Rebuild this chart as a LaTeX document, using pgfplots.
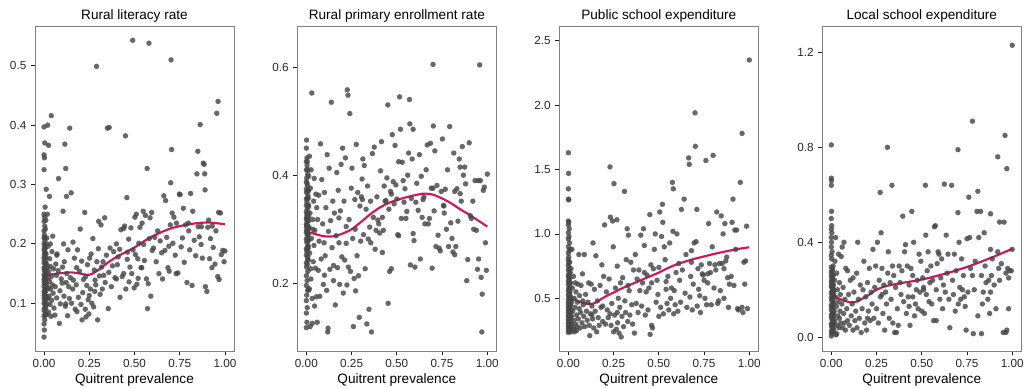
\documentclass[border=0pt]{standalone}
\usepackage{fontspec}
\setmainfont{Liberation Sans}
\usepackage{pgfplots}
\pgfplotsset{compat=1.18}
\definecolor{pt}{HTML}{474747}
\definecolor{ln}{HTML}{D4145A}
\pgfplotsset{
  pts/.style={only marks, mark=*, mark size=2.05pt, color=pt, mark options={draw opacity=0, fill=pt, fill opacity=0.82}},
  fit/.style={no marks, smooth, color=ln, line width=1.6pt},
  panel/.style={
  scale only axis, width=149.25pt, height=243.75pt, anchor=south west,
  xmin=-0.05, xmax=1.05, xtick={0,0.25,0.5,0.75,1},
  /pgf/number format/assume math mode=true,
  xticklabel style={/pgf/number format/.cd,fixed,fixed zerofill,precision=2},
  yticklabel style={/pgf/number format/.cd,fixed,fixed zerofill,precision=1},
  tick pos=left, tick align=outside, major tick length=3pt,
  tick style={black!90, line width=0.6pt},
  axis line style={draw=black!50, line width=0.6pt},
  ticklabel style={font=\fontsize{8.8}{10}\selectfont, text=black!85},
  title style={font=\fontsize{10.2}{11}\selectfont, yshift=-6.8pt},
  label style={font=\fontsize{10.2}{11}\selectfont},
  xlabel={Quitrent prevalence}, xlabel style={yshift=3pt},
  clip=false
}}
\begin{document}
\begin{tikzpicture}
\path[use as bounding box] (0,0) rectangle (768pt,290.25pt);
% Panel 1
\begin{axis}[panel, at={(26.25pt,27pt)}, title={Rural literacy rate},
  ymin=0.0196, ymax=0.567, ytick={0.1,0.2,0.3,0.4,0.5}]
\addplot[pts] table {
x y
0 0.043
0.002 0.055
0 0.065
0.004 0.072
0 0.078
0.006 0.083
0 0.088
0.003 0.092
0.008 0.096
0 0.100
0.005 0.104
0 0.108
0.01 0.112
0.002 0.116
0 0.120
0.007 0.124
0 0.128
0.004 0.132
0.009 0.136
0 0.140
0.003 0.144
0 0.148
0.006 0.152
0.001 0.156
0 0.160
0.008 0.164
0 0.168
0.004 0.172
0 0.176
0.002 0.180
0.007 0.185
0 0.190
0.003 0.195
0 0.200
0.005 0.205
0 0.210
0.002 0.215
0 0.222
0.004 0.230
0 0.238
0.003 0.245
0 0.250
0.006 0.262
0 0.325
0.002 0.345
0 0.350
0.004 0.370
0 0.397
0.001 0.113
0.011 0.147
0.012 0.176
0.001 0.135
0.009 0.091
0.011 0.121
0.006 0.098
0.009 0.107
0.004 0.118
0.01 0.128
0.007 0.139
0.012 0.150
0.005 0.158
0.009 0.168
0.011 0.183
0.006 0.192
0.009 0.200
0.004 0.211
0.013 0.132
0.014 0.109
0.013 0.166
0.008 0.080
0.005 0.140
0.01 0.155
0.003 0.185
0.007 0.225
0.015 0.081
0.016 0.099
0.018 0.142
0.02 0.108
0.02 0.160
0.022 0.196
0.024 0.126
0.025 0.085
0.026 0.153
0.028 0.112
0.03 0.137
0.031 0.175
0.033 0.098
0.035 0.162
0.036 0.124
0.038 0.078
0.04 0.145
0.042 0.105
0.044 0.187
0.046 0.131
0.048 0.213
0.05 0.117
0.052 0.158
0.055 0.092
0.012 0.292
0.02 0.40
0.025 0.366
0.03 0.28
0.04 0.416
0.01 0.24
0.015 0.21
0.035 0.20
0.018 0.25
0.06 0.080
0.062 0.128
0.065 0.166
0.068 0.147
0.07 0.109
0.072 0.183
0.078 0.155
0.08 0.31
0.085 0.066
0.088 0.121
0.09 0.099
0.095 0.141
0.1 0.134
0.102 0.161
0.105 0.255
0.108 0.200
0.11 0.112
0.112 0.170
0.115 0.368
0.118 0.095
0.12 0.327
0.122 0.135
0.124 0.28
0.126 0.150
0.13 0.079
0.132 0.190
0.136 0.128
0.14 0.108
0.142 0.395
0.146 0.143
0.15 0.286
0.152 0.100
0.158 0.124
0.162 0.139
0.168 0.176
0.172 0.090
0.178 0.131
0.182 0.086
0.185 0.190
0.19 0.110
0.196 0.154
0.2 0.225
0.204 0.098
0.208 0.171
0.214 0.118
0.218 0.140
0.225 0.253
0.228 0.090
0.232 0.077
0.236 0.130
0.24 0.165
0.244 0.106
0.248 0.082
0.252 0.176
0.256 0.124
0.26 0.183
0.264 0.100
0.27 0.209
0.274 0.094
0.278 0.156
0.282 0.139
0.286 0.131
0.29 0.499
0.292 0.170
0.296 0.072
0.3 0.192
0.302 0.238
0.306 0.146
0.31 0.115
0.315 0.232
0.318 0.161
0.322 0.124
0.326 0.170
0.33 0.147
0.335 0.244
0.338 0.135
0.345 0.181
0.35 0.395
0.355 0.091
0.36 0.396
0.358 0.152
0.21 0.072
0.16 0.203
0.07 0.181
0.25 0.113
0.28 0.120
0.23 0.145
0.12 0.099
0.18 0.160
0.365 0.193
0.372 0.128
0.378 0.163
0.385 0.187
0.392 0.143
0.4 0.200
0.405 0.165
0.41 0.178
0.418 0.191
0.425 0.224
0.432 0.145
0.44 0.226
0.445 0.230
0.45 0.382
0.452 0.124
0.458 0.278
0.462 0.186
0.468 0.208
0.475 0.161
0.48 0.227
0.485 0.150
0.49 0.543
0.492 0.190
0.498 0.126
0.502 0.245
0.505 0.182
0.51 0.250
0.513 0.132
0.518 0.175
0.524 0.201
0.53 0.228
0.536 0.160
0.542 0.235
0.548 0.255
0.555 0.172
0.56 0.248
0.566 0.141
0.57 0.327
0.572 0.091
0.576 0.133
0.58 0.538
0.582 0.209
0.586 0.244
0.59 0.112
0.595 0.253
0.598 0.189
0.605 0.193
0.612 0.211
0.62 0.170
0.628 0.222
0.635 0.150
0.642 0.205
0.65 0.185
0.655 0.141
0.44 0.150
0.46 0.174
0.52 0.142
0.54 0.160
0.4 0.141
0.55 0.199
0.42 0.110
0.47 0.136
0.662 0.281
0.668 0.189
0.672 0.273
0.678 0.211
0.685 0.160
0.692 0.154
0.698 0.232
0.70 0.303
0.702 0.510
0.705 0.359
0.708 0.252
0.712 0.201
0.718 0.245
0.725 0.181
0.732 0.235
0.74 0.151
0.748 0.284
0.752 0.283
0.758 0.195
0.765 0.210
0.77 0.260
0.775 0.169
0.782 0.232
0.79 0.135
0.798 0.235
0.805 0.190
0.81 0.285
0.818 0.130
0.822 0.255
0.83 0.206
0.838 0.180
0.845 0.318
0.85 0.356
0.852 0.229
0.858 0.212
0.863 0.401
0.868 0.199
0.875 0.176
0.88 0.336
0.885 0.334
0.888 0.318
0.89 0.291
0.892 0.128
0.9 0.120
0.905 0.228
0.91 0.240
0.915 0.175
0.92 0.209
0.928 0.160
0.935 0.194
0.945 0.166
0.955 0.420
0.96 0.145
0.962 0.440
0.965 0.253
0.968 0.140
0.975 0.252
0.98 0.182
0.988 0.189
0.995 0.170
1.0 0.188
0.95 0.222
0.8 0.222
0.73 0.150
0.69 0.196
0.87 0.229
0.93 0.230
};
\addplot[fit] coordinates {(0,0.146)(0.05,0.149)(0.1,0.151)(0.15,0.152)(0.2,0.150)(0.25,0.148)(0.3,0.156)(0.35,0.168)(0.4,0.178)(0.45,0.186)(0.5,0.194)(0.55,0.204)(0.6,0.213)(0.65,0.220)(0.7,0.226)(0.75,0.230)(0.8,0.233)(0.85,0.235)(0.9,0.236)(0.95,0.235)(1.0,0.233)};
\end{axis}
% Panel 2
\begin{axis}[panel, at={(223pt,27pt)}, title={Rural primary enrollment rate},
  ymin=0.0748, ymax=0.676, ytick={0.2,0.4,0.6}]
\addplot[pts] table {
x y
0 0.118
0.003 0.128
0 0.145
0.005 0.155
0 0.168
0.002 0.178
0.007 0.187
0 0.196
0.004 0.205
0 0.214
0.008 0.222
0.001 0.230
0 0.238
0.006 0.245
0 0.252
0.003 0.258
0 0.264
0.009 0.270
0.002 0.276
0 0.282
0.005 0.288
0 0.294
0.007 0.299
0.001 0.304
0 0.309
0.004 0.314
0 0.319
0.008 0.324
0.002 0.328
0 0.333
0.006 0.338
0 0.344
0.003 0.350
0 0.356
0.009 0.362
0.001 0.368
0 0.374
0.005 0.381
0 0.388
0.002 0.395
0.007 0.402
0 0.410
0.004 0.418
0 0.425
0.003 0.432
0 0.450
0.001 0.465
0.01 0.290
0.011 0.315
0.012 0.342
0.01 0.265
0.012 0.372
0.011 0.243
0.001 0.298
0.002 0.322
0.006 0.235
0.009 0.25
0.004 0.262
0.01 0.279
0.007 0.292
0.012 0.305
0.005 0.318
0.009 0.33
0.011 0.345
0.006 0.358
0.009 0.37
0.004 0.385
0.013 0.398
0.008 0.41
0.005 0.425
0.012 0.28
0.013 0.323
0.01 0.357
0.003 0.307
0.007 0.268
0.014 0.188
0.015 0.302
0.017 0.435
0.018 0.256
0.02 0.330
0.021 0.120
0.022 0.376
0.024 0.227
0.026 0.410
0.028 0.283
0.03 0.552
0.032 0.172
0.033 0.126
0.035 0.318
0.038 0.240
0.04 0.352
0.042 0.270
0.045 0.158
0.047 0.298
0.05 0.228
0.052 0.365
0.055 0.175
0.057 0.340
0.06 0.128
0.016 0.190
0.025 0.208
0.036 0.300
0.043 0.394
0.062 0.318
0.066 0.224
0.068 0.363
0.07 0.278
0.074 0.176
0.078 0.458
0.082 0.245
0.085 0.392
0.09 0.310
0.094 0.198
0.098 0.275
0.1 0.368
0.104 0.251
0.108 0.340
0.112 0.187
0.115 0.438
0.118 0.110
0.12 0.117
0.122 0.296
0.126 0.413
0.13 0.226
0.134 0.316
0.138 0.535
0.142 0.266
0.146 0.352
0.15 0.205
0.155 0.330
0.16 0.160
0.164 0.288
0.168 0.405
0.172 0.229
0.176 0.372
0.18 0.275
0.184 0.198
0.188 0.334
0.192 0.420
0.196 0.249
0.2 0.450
0.204 0.182
0.208 0.352
0.212 0.243
0.216 0.432
0.22 0.274
0.224 0.197
0.226 0.558
0.23 0.548
0.232 0.230
0.236 0.318
0.24 0.514
0.244 0.222
0.248 0.376
0.252 0.413
0.256 0.283
0.26 0.120
0.264 0.209
0.268 0.355
0.272 0.186
0.276 0.457
0.28 0.251
0.284 0.368
0.288 0.214
0.292 0.137
0.296 0.343
0.3 0.278
0.304 0.360
0.308 0.393
0.312 0.430
0.316 0.290
0.32 0.418
0.325 0.227
0.33 0.337
0.334 0.125
0.338 0.380
0.342 0.282
0.346 0.152
0.35 0.304
0.355 0.352
0.36 0.110
0.356 0.275
0.27 0.300
0.18 0.321
0.15 0.233
0.1 0.215
0.22 0.305
0.31 0.355
0.365 0.440
0.37 0.322
0.375 0.452
0.38 0.263
0.385 0.298
0.39 0.360
0.395 0.317
0.4 0.310
0.405 0.293
0.41 0.408
0.415 0.462
0.42 0.322
0.425 0.298
0.43 0.380
0.435 0.352
0.44 0.353
0.445 0.395
0.45 0.530
0.452 0.163
0.456 0.337
0.46 0.222
0.465 0.370
0.47 0.227
0.475 0.475
0.48 0.388
0.485 0.347
0.49 0.455
0.495 0.382
0.5 0.356
0.505 0.290
0.51 0.425
0.515 0.545
0.52 0.485
0.525 0.320
0.53 0.424
0.535 0.390
0.54 0.350
0.545 0.375
0.55 0.320
0.555 0.333
0.56 0.400
0.565 0.441
0.57 0.540
0.572 0.495
0.575 0.234
0.58 0.357
0.585 0.430
0.59 0.485
0.595 0.279
0.6 0.230
0.605 0.350
0.61 0.385
0.618 0.335
0.625 0.438
0.63 0.245
0.635 0.398
0.64 0.322
0.645 0.355
0.65 0.360
0.655 0.310
0.51 0.288
0.47 0.365
0.59 0.292
0.42 0.257
0.662 0.410
0.668 0.456
0.674 0.310
0.68 0.320
0.686 0.459
0.69 0.376
0.695 0.228
0.70 0.605
0.702 0.491
0.706 0.334
0.71 0.445
0.716 0.268
0.722 0.381
0.728 0.289
0.734 0.265
0.74 0.260
0.746 0.370
0.752 0.467
0.758 0.344
0.762 0.330
0.768 0.374
0.774 0.300
0.78 0.410
0.786 0.268
0.792 0.490
0.798 0.312
0.805 0.283
0.81 0.258
0.815 0.441
0.82 0.253
0.826 0.268
0.832 0.375
0.838 0.315
0.845 0.430
0.85 0.366
0.856 0.352
0.862 0.453
0.868 0.400
0.875 0.415
0.88 0.384
0.886 0.205
0.892 0.244
0.9 0.460
0.906 0.325
0.912 0.320
0.92 0.352
0.925 0.300
0.932 0.390
0.94 0.298
0.946 0.226
0.952 0.245
0.958 0.604
0.962 0.390
0.966 0.211
0.97 0.110
0.972 0.180
0.978 0.372
0.984 0.378
0.99 0.275
0.995 0.224
1.0 0.402
0.7 0.376
0.76 0.343
0.85 0.415
0.82 0.370
0.95 0.390
};
\addplot[fit] coordinates {(0,0.296)(0.05,0.291)(0.1,0.287)(0.15,0.287)(0.2,0.292)(0.25,0.300)(0.3,0.313)(0.35,0.327)(0.4,0.339)(0.45,0.348)(0.5,0.354)(0.55,0.359)(0.6,0.363)(0.65,0.366)(0.7,0.364)(0.75,0.357)(0.8,0.348)(0.85,0.337)(0.9,0.327)(0.95,0.316)(1.0,0.305)};
\end{axis}
% Panel 3
\begin{axis}[panel, at={(419.5pt,27pt)}, title={Public school expenditure},
  ymin=0.091, ymax=2.614, ytick={0.5,1,1.5,2,2.5}]
\addplot[pts] table {
x y
0 0.235
0.004 0.245
0 0.255
0.007 0.265
0.002 0.275
0 0.285
0.005 0.295
0 0.305
0.009 0.315
0.003 0.325
0 0.335
0.006 0.345
0 0.355
0.002 0.365
0.008 0.375
0 0.385
0.004 0.395
0 0.405
0.006 0.415
0.001 0.425
0 0.435
0.007 0.445
0.003 0.455
0 0.465
0.005 0.475
0 0.49
0.009 0.50
0.002 0.515
0 0.53
0.006 0.545
0 0.56
0.003 0.575
0.008 0.59
0 0.605
0.004 0.62
0 0.635
0.006 0.65
0.001 0.665
0 0.68
0.005 0.70
0 0.72
0.003 0.74
0 0.76
0.007 0.78
0 0.80
0.002 0.82
0 0.85
0.004 0.87
0 0.90
0.006 0.93
0 0.96
0.003 0.98
0 1.01
0.005 1.04
0 1.07
0.002 1.09
0 1.10
0 1.27
0.002 1.265
0 1.35
0.001 1.47
0 1.63
0.01 0.28
0.011 0.33
0.012 0.41
0.01 0.52
0.011 0.62
0.012 0.25
0.01 0.88
0.006 0.26
0.009 0.29
0.004 0.31
0.01 0.35
0.007 0.37
0.012 0.39
0.005 0.43
0.009 0.46
0.011 0.48
0.006 0.51
0.009 0.55
0.004 0.58
0.013 0.30
0.008 0.62
0.005 0.66
0.012 0.45
0.013 0.36
0.01 0.70
0.003 0.78
0.007 0.25
0.014 0.24
0.016 0.36
0.018 0.47
0.02 0.29
0.022 0.58
0.024 0.40
0.026 0.26
0.028 0.67
0.03 0.33
0.032 0.50
0.034 0.24
0.036 0.43
0.038 0.62
0.04 0.30
0.042 0.55
0.045 0.37
0.048 0.28
0.05 0.47
0.052 0.61
0.055 0.34
0.058 0.84
0.06 0.42
0.02 0.88
0.03 0.26
0.045 0.25
0.015 0.73
0.062 0.52
0.065 0.27
0.068 0.39
0.07 0.60
0.075 0.31
0.078 0.69
0.082 0.45
0.085 0.36
0.088 0.84
0.09 0.28
0.095 0.53
0.1 0.40
0.104 0.33
0.108 0.47
0.112 0.62
0.115 0.29
0.118 0.21
0.122 0.38
0.126 0.61
0.13 0.44
0.134 0.34
0.136 0.93
0.14 0.27
0.144 0.57
0.148 0.40
0.152 0.83
0.156 0.24
0.16 0.48
0.165 0.35
0.17 0.29
0.175 0.60
0.18 0.43
0.185 0.76
0.19 0.32
0.195 0.67
0.2 1.07
0.205 0.30
0.21 0.55
0.215 0.41
0.22 0.35
0.225 0.65
0.23 1.52
0.232 1.13
0.236 0.29
0.24 0.46
0.244 1.10
0.248 0.90
0.25 0.24
0.252 1.39
0.256 0.37
0.26 0.58
0.265 0.26
0.268 1.11
0.27 0.75
0.272 0.31
0.276 0.50
0.28 0.23
0.284 0.43
0.288 0.62
0.292 0.20
0.296 0.36
0.3 0.66
0.305 0.28
0.31 1.33
0.312 0.48
0.316 0.39
0.32 0.80
0.325 1.04
0.328 0.32
0.332 0.99
0.336 0.56
0.34 0.37
0.345 0.78
0.35 0.45
0.355 0.30
0.36 0.72
0.19 0.44
0.13 0.37
0.27 0.39
0.33 0.60
0.08 0.48
0.23 0.38
0.365 0.23
0.37 0.84
0.375 0.46
0.38 0.65
0.385 0.39
0.39 0.72
0.395 0.56
0.4 0.99
0.405 0.44
0.41 0.62
0.415 1.04
0.42 0.91
0.425 0.37
0.43 0.55
0.435 0.68
0.44 0.41
0.445 0.58
0.45 1.15
0.452 0.22
0.456 0.76
0.46 0.29
0.465 0.27
0.47 0.73
0.475 0.88
0.48 1.00
0.485 0.47
0.49 0.64
0.495 0.53
0.5 0.74
0.505 1.17
0.51 0.43
0.515 0.98
0.52 1.23
0.522 1.09
0.525 0.38
0.53 0.90
0.535 0.80
0.54 0.57
0.545 0.46
0.55 0.67
0.555 0.41
0.56 0.93
0.565 0.50
0.57 0.58
0.575 1.40
0.578 1.02
0.58 1.35
0.582 0.38
0.585 0.56
0.59 0.45
0.595 0.70
0.6 1.00
0.605 0.40
0.61 0.77
0.615 0.64
0.62 0.47
0.625 1.19
0.63 0.72
0.64 1.27
0.645 0.54
0.65 0.84
0.655 0.43
0.5 0.36
0.46 0.62
0.42 0.70
0.54 0.63
0.665 1.59
0.668 1.54
0.672 0.51
0.676 0.67
0.68 0.87
0.685 0.41
0.69 0.61
0.695 0.93
0.70 1.94
0.702 1.68
0.706 0.94
0.71 1.19
0.712 0.44
0.716 0.73
0.72 0.57
0.726 0.52
0.73 0.39
0.735 0.76
0.74 0.69
0.745 0.68
0.75 0.64
0.755 0.50
0.76 1.57
0.764 0.45
0.77 0.62
0.775 1.08
0.78 0.77
0.785 0.70
0.79 0.45
0.795 0.90
0.8 1.61
0.805 0.58
0.81 0.76
0.815 0.72
0.82 1.17
0.825 0.46
0.83 0.48
0.835 0.77
0.84 0.56
0.845 1.14
0.85 0.77
0.855 1.00
0.86 0.50
0.865 1.08
0.87 0.79
0.875 0.82
0.88 0.66
0.885 0.43
0.89 0.61
0.9 0.67
0.905 1.09
0.91 1.27
0.915 0.60
0.92 1.03
0.925 0.88
0.93 1.03
0.935 0.42
0.94 0.41
0.95 1.40
0.96 1.78
0.96 0.43
0.965 0.39
0.97 0.78
0.975 0.61
0.98 0.79
0.985 1.06
0.99 0.42
1.0 2.35
0.86 0.73
0.68 0.78
0.77 0.69
};
\addplot[fit] coordinates {(0,0.52)(0.05,0.48)(0.1,0.458)(0.14,0.46)(0.2,0.51)(0.25,0.545)(0.3,0.58)(0.35,0.61)(0.4,0.64)(0.45,0.67)(0.5,0.70)(0.55,0.735)(0.6,0.765)(0.65,0.787)(0.7,0.808)(0.75,0.825)(0.8,0.843)(0.85,0.858)(0.9,0.873)(0.95,0.886)(1.0,0.896)};
\end{axis}
% Panel 4
\begin{axis}[panel, at={(616.7pt,27pt)}, title={Local school expenditure},
  ymin=-0.058, ymax=1.311, ytick={0,0.4,0.8,1.2}]
\addplot[pts] table {
x y
0 0.005
0.003 0.015
0 0.025
0.006 0.035
0.002 0.045
0 0.055
0.008 0.065
0.004 0.075
0 0.085
0.001 0.095
0.007 0.105
0 0.115
0.003 0.125
0 0.135
0.009 0.145
0.002 0.155
0 0.165
0.005 0.175
0 0.185
0.004 0.195
0.008 0.205
0 0.215
0.002 0.225
0 0.235
0.006 0.245
0 0.255
0.003 0.265
0 0.275
0.007 0.285
0 0.295
0.002 0.33
0 0.345
0.004 0.36
0 0.38
0.001 0.40
0 0.42
0.003 0.44
0 0.455
0.002 0.47
0 0.50
0.001 0.53
0 0.64
0.001 0.66
0 0.67
0 0.81
0.01 0.05
0.011 0.12
0.012 0.19
0.01 0.26
0.011 0.09
0.012 0.22
0.01 0.16
0.006 0.02
0.009 0.04
0.004 0.06
0.01 0.08
0.007 0.10
0.012 0.14
0.005 0.13
0.009 0.15
0.011 0.18
0.006 0.19
0.009 0.22
0.004 0.24
0.013 0.06
0.008 0.26
0.005 0.28
0.012 0.10
0.013 0.20
0.01 0.30
0.003 0.21
0.007 0.17
0.014 0.03
0.016 0.11
0.018 0.24
0.02 0.07
0.022 0.17
0.024 0.42
0.026 0.01
0.028 0.13
0.03 0.27
0.032 0.05
0.034 0.20
0.036 0.09
0.038 0.15
0.04 0.35
0.042 0.04
0.045 0.23
0.048 0.11
0.05 0.18
0.052 0.06
0.055 0.34
0.058 0.14
0.06 0.38
0.02 0.32
0.03 0.015
0.045 0.08
0.062 0.04
0.065 0.21
0.068 0.10
0.07 0.40
0.072 0.06
0.075 0.16
0.078 0.03
0.08 0.29
0.085 0.12
0.09 0.07
0.095 0.18
0.1 0.05
0.105 0.24
0.11 0.09
0.115 0.14
0.12 0.03
0.125 0.19
0.13 0.07
0.135 0.11
0.14 0.27
0.142 0.04
0.146 0.40
0.15 0.16
0.155 0.08
0.16 0.22
0.165 0.02
0.17 0.12
0.175 0.20
0.18 0.32
0.185 0.06
0.19 0.17
0.195 0.03
0.2 0.23
0.205 0.11
0.21 0.29
0.215 0.07
0.22 0.19
0.225 0.14
0.23 0.37
0.235 0.08
0.24 0.21
0.245 0.30
0.25 0.12
0.255 0.40
0.26 0.06
0.265 0.24
0.27 0.61
0.272 0.17
0.275 0.44
0.28 0.29
0.285 0.10
0.29 0.22
0.295 0.03
0.3 0.19
0.305 0.14
0.31 0.80
0.312 0.27
0.315 0.36
0.32 0.08
0.325 0.23
0.33 0.16
0.335 0.64
0.338 0.30
0.34 0.06
0.345 0.26
0.35 0.02
0.355 0.21
0.36 0.02
0.12 0.25
0.2 0.08
0.28 0.18
0.09 0.28
0.365 0.12
0.37 0.05
0.375 0.30
0.38 0.23
0.385 0.18
0.39 0.28
0.395 0.51
0.4 0.15
0.405 0.36
0.41 0.39
0.415 0.10
0.42 0.30
0.425 0.17
0.43 0.22
0.435 0.05
0.44 0.29
0.445 0.53
0.45 0.17
0.455 0.40
0.46 0.09
0.465 0.14
0.47 0.20
0.475 0.24
0.48 0.12
0.485 0.35
0.49 0.19
0.495 0.32
0.5 0.11
0.505 0.25
0.51 0.20
0.515 0.10
0.52 0.64
0.522 0.43
0.525 0.18
0.53 0.28
0.535 0.36
0.54 0.15
0.545 0.23
0.55 0.30
0.555 0.14
0.56 0.24
0.565 0.07
0.57 0.465
0.575 0.47
0.58 0.20
0.585 0.31
0.59 0.36
0.595 0.35
0.6 0.16
0.605 0.25
0.61 0.33
0.615 0.12
0.62 0.22
0.625 0.645
0.63 0.19
0.635 0.43
0.64 0.27
0.645 0.35
0.65 0.16
0.655 0.04
0.45 0.26
0.51 0.21
0.58 0.07
0.43 0.13
0.665 0.64
0.67 0.24
0.675 0.18
0.68 0.35
0.685 0.11
0.69 0.28
0.70 0.79
0.7 0.525
0.702 0.14
0.706 0.40
0.71 0.21
0.715 0.16
0.72 0.33
0.725 0.20
0.73 0.26
0.735 0.17
0.74 0.13
0.745 0.03
0.75 0.415
0.755 0.19
0.76 0.59
0.765 0.42
0.77 0.29
0.78 0.91
0.78 0.26
0.785 0.015
0.79 0.20
0.795 0.32
0.81 0.615
0.805 0.53
0.81 0.09
0.815 0.42
0.825 0.53
0.83 0.015
0.83 0.26
0.835 0.14
0.84 0.19
0.845 0.44
0.85 0.30
0.855 0.23
0.88 0.52
0.865 0.16
0.87 0.24
0.875 0.10
0.88 0.19
0.885 0.26
0.89 0.33
0.9 0.22
0.92 0.76
0.91 0.12
0.93 0.485
0.92 0.36
0.925 0.29
0.93 0.24
0.955 0.485
0.94 0.31
0.96 0.85
0.95 0.02
0.97 0.71
0.97 0.03
0.965 0.27
0.98 0.12
0.975 0.29
0.98 0.25
0.985 0.28
1.0 1.23
0.995 0.28
1.0 0.37
0.965 0.02
0.88 0.37
};
\addplot[fit] coordinates {(0,0.182)(0.05,0.160)(0.1,0.148)(0.14,0.150)(0.2,0.175)(0.25,0.200)(0.3,0.215)(0.35,0.223)(0.4,0.230)(0.45,0.236)(0.5,0.243)(0.55,0.252)(0.6,0.262)(0.65,0.272)(0.7,0.284)(0.75,0.296)(0.8,0.310)(0.85,0.325)(0.9,0.340)(0.95,0.356)(1.0,0.373)};
\end{axis}
\end{tikzpicture}
\end{document}
